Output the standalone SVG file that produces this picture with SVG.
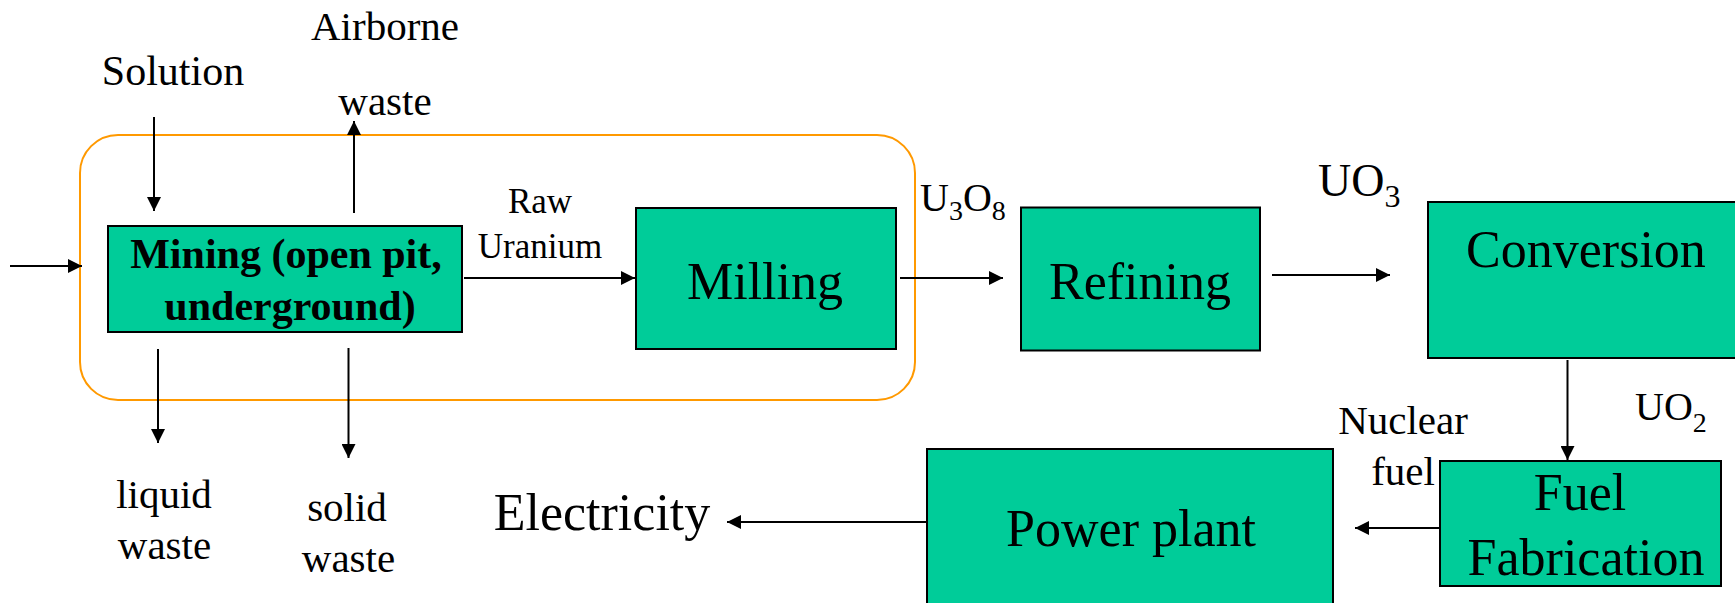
<svg xmlns="http://www.w3.org/2000/svg" width="1735" height="603" viewBox="0 0 1735 603">
<defs>
<style>
.box{fill:#00CC99;stroke:#000;stroke-width:2}
.t{font-family:"Liberation Serif","Times New Roman",serif;fill:#000}
.c{text-anchor:middle}
.l{stroke:#000;stroke-width:2;fill:none;marker-end:url(#ah)}
</style>
<marker id="ah" markerUnits="userSpaceOnUse" markerWidth="16" markerHeight="14" refX="14" refY="7" orient="auto">
<path d="M0,0 L14,7 L0,14 Z" fill="#000"/>
</marker>
</defs>
<rect width="1735" height="603" fill="#fff"/>
<rect id="group-mining-milling" x="80" y="135" width="835" height="265" rx="38" fill="none" stroke="#FF9900" stroke-width="2"/>
<g id="connectors">
<line class="l" x1="10" y1="266" x2="82" y2="266"/>
<line class="l" x1="154" y1="117" x2="154" y2="211"/>
<line class="l" x1="354" y1="213" x2="354" y2="121"/>
<line class="l" x1="158" y1="349" x2="158" y2="443"/>
<line class="l" x1="348.5" y1="348" x2="348.5" y2="458"/>
<line class="l" x1="464" y1="278" x2="635" y2="278"/>
<line class="l" x1="900" y1="278" x2="1003" y2="278"/>
<line class="l" x1="1272" y1="275" x2="1390" y2="275"/>
<line class="l" x1="1567.5" y1="360" x2="1567.5" y2="460"/>
<line class="l" x1="1442" y1="528" x2="1355" y2="528"/>
<line class="l" x1="927" y1="522" x2="727" y2="522"/>
</g>
<g id="mining">
<rect class="box" x="108" y="226" width="354" height="106"/>
<text class="t c" x="286" y="268" font-size="42" font-weight="bold">Mining (open pit,</text>
<text class="t c" x="290" y="320" font-size="42" font-weight="bold">underground)</text>
</g>
<g id="milling">
<rect class="box" x="636" y="208" width="260" height="141"/>
<text class="t c" x="765" y="299" font-size="52">Milling</text>
</g>
<g id="refining">
<rect class="box" x="1021" y="207.5" width="239" height="143"/>
<text class="t c" x="1140" y="299" font-size="52">Refining</text>
</g>
<g id="conversion">
<rect class="box" x="1428" y="202" width="320" height="156"/>
<text class="t c" x="1586" y="267" font-size="52">Conversion</text>
</g>
<g id="fuel-fabrication">
<rect class="box" x="1440" y="461" width="281" height="125"/>
<text class="t c" x="1580" y="510" font-size="52">Fuel</text>
<text class="t c" x="1586" y="575" font-size="52">Fabrication</text>
</g>
<g id="power-plant">
<rect class="box" x="927" y="449" width="406" height="170"/>
<text class="t c" x="1131" y="546" font-size="52">Power plant</text>
</g>
<g id="labels">
<text class="t c" x="173" y="85" font-size="42">Solution</text>
<text class="t c" x="385" y="40" font-size="41">Airborne</text>
<text class="t c" x="385" y="115" font-size="41">waste</text>
<text class="t c" x="540" y="213" font-size="35">Raw</text>
<text class="t c" x="540" y="258" font-size="35">Uranium</text>
<text class="t" x="920" y="211" font-size="40">U<tspan font-size="28" dy="9">3</tspan><tspan dy="-9">O</tspan><tspan font-size="28" dy="9">8</tspan></text>
<text class="t" x="1318" y="196" font-size="46">UO<tspan font-size="32" dy="11">3</tspan></text>
<text class="t" x="1635" y="420" font-size="40">UO<tspan font-size="28" dy="12">2</tspan></text>
<text class="t c" x="1403" y="434" font-size="41">Nuclear</text>
<text class="t c" x="1403" y="485" font-size="41">fuel</text>
<text class="t c" x="602" y="530" font-size="52">Electricity</text>
<text class="t c" x="164" y="508" font-size="41">liquid</text>
<text class="t c" x="164.5" y="559" font-size="41">waste</text>
<text class="t c" x="347" y="521" font-size="41">solid</text>
<text class="t c" x="348.5" y="572" font-size="41">waste</text>
</g>
</svg>
